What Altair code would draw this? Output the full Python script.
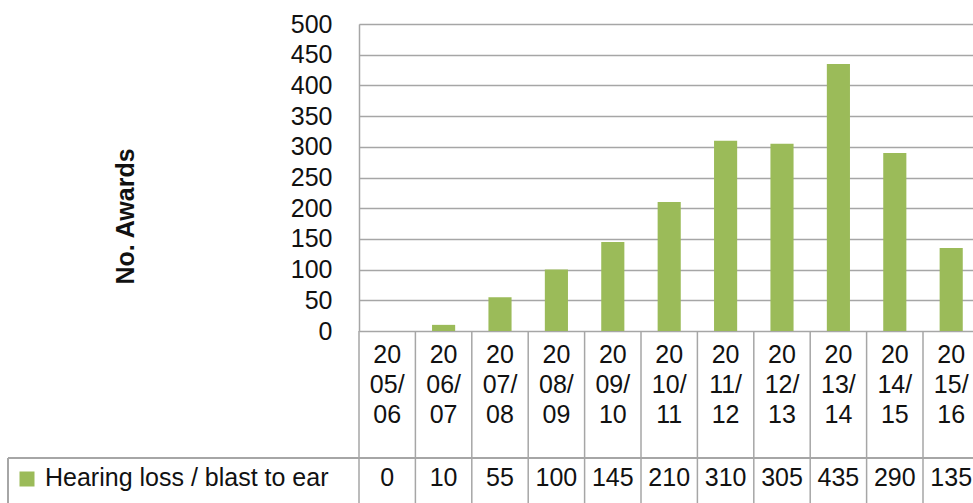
import altair as alt
import pandas as pd

seasons = ["2005/06", "2006/07", "2007/08", "2008/09", "2009/10", "2010/11",
           "2011/12", "2012/13", "2013/14", "2014/15", "2015/16"]
awards = [0, 10, 55, 100, 145, 210, 310, 305, 435, 290, 135]
series_name = "Hearing loss / blast to ear"
y_ticks = [0, 50, 100, 150, 200, 250, 300, 350, 400, 450, 500]

df = pd.DataFrame({
    "season": seasons,
    "awards": awards,
    "l1": [s[:2] for s in seasons],
    "l2": [s[2:5] for s in seasons],
    "l3": [s[5:] for s in seasons],
    "val": [str(v) for v in awards],
})

FONT = "Liberation Sans"
FS = 25
TXT = "#111111"
GRID = "#a6a6a6"
GREEN = "#9bbb59"
W, H = 614, 307
STEP = 56.4

xsc = alt.Scale(domain=seasons, range=[0, STEP * len(seasons)], paddingInner=0, paddingOuter=0)
X = alt.X("season:N", scale=xsc, axis=None, sort=seasons)

base = alt.Chart(df)

bars = base.mark_bar(color=GREEN, width={"band": 0.41}).encode(
    x=X,
    y=alt.Y("awards:Q", scale=alt.Scale(domain=[0, 500], nice=False),
            axis=alt.Axis(values=y_ticks, title="No. Awards", grid=True, gridColor=GRID,
                          gridWidth=1.5, domainColor=GRID, domainWidth=1.5, ticks=False,
                          labelPadding=27, labelFont=FONT, labelFontSize=FS, labelColor=TXT,
                          titleFont="Liberation Sans", titleFontSize=25, titleFontWeight="bold",
                          titleColor=TXT, titleAngle=270, titleX=-234, titleY=192,
                          titleAlign="center", titleBaseline="middle")),
)

vlines = base.mark_rule(color=GRID, strokeWidth=1.5).encode(
    x=alt.X("season:N", scale=xsc, axis=None, sort=seasons, bandPosition=0),
    y=alt.value(H), y2=alt.value(H + 172),
)

def row(field, ypix):
    return base.mark_text(font=FONT, fontSize=FS, color=TXT, baseline="middle").encode(
        x=X, y=alt.value(ypix), text=f"{field}:N")

l1 = row("l1", 355 - 24)
l2 = row("l2", 385 - 24)
l3 = row("l3", 415 - 24)
vals = row("val", 478 - 24)

hline = base.mark_rule(color=GRID, strokeWidth=1.5).encode(
    x=alt.value(8 - 359), x2=alt.value(W + 10), y=alt.value(458 - 24))
lborder = base.mark_rule(color=GRID, strokeWidth=1.5).encode(
    x=alt.value(8 - 359), y=alt.value(458 - 24), y2=alt.value(H + 172))

legend_df = pd.DataFrame({"name": [series_name]})
leg_sq = alt.Chart(legend_df).mark_square(color=GREEN, size=225, opacity=1).encode(
    x=alt.value(27 - 359), y=alt.value(479 - 24))
leg_txt = alt.Chart(legend_df).mark_text(font=FONT, fontSize=FS, color=TXT,
                                         align="left", baseline="middle").encode(
    x=alt.value(45 - 359), y=alt.value(478 - 24), text="name:N")

chart = alt.layer(bars, vlines, l1, l2, l3, vals, hline, lborder, leg_sq, leg_txt).properties(
    width=W, height=H,
    autosize=alt.AutoSizeParams(type="none"),
    padding={"left": 359, "top": 24, "right": 0, "bottom": 172},
).configure_view(stroke=None).configure(background="white")

chart.save("out.html", embed_options={"renderer": "svg", "actions": False})
